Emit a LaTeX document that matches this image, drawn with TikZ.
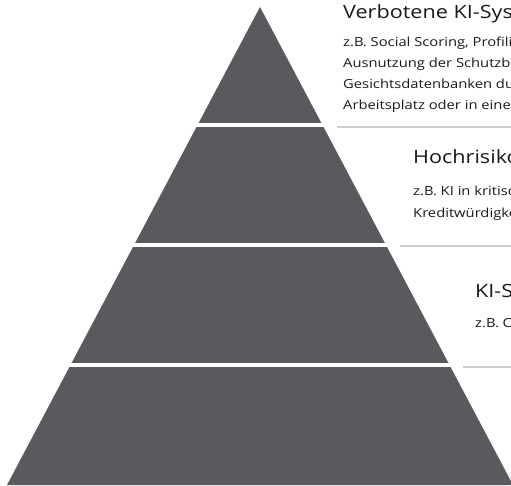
\documentclass[tikz,border=0pt]{standalone}
\usepackage{fontspec}
\setmainfont[FakeStretch=1.18]{Open Sans}
\usepackage{tikz}
\usetikzlibrary{calc}
\definecolor{pyrgray}{RGB}{90,89,94}
\definecolor{rulegray}{RGB}{205,205,205}
\definecolor{textblack}{RGB}{25,25,25}
\tikzset{tiertitle/.style = {draw=none, inner sep = 0, anchor = base west, text = textblack, font = \fontsize{18.3}{18.3}\selectfont}}
\tikzset{tiertext/.style = {draw=none, inner sep = 0, anchor = base west, text = textblack, font = \fontsize{12.5}{12.5}\selectfont}}
\tikzset{tierrule/.style = {draw = rulegray, line width = 1.2}}

\begin{document}
\begin{tikzpicture}[x=1pt, y=-1pt]
\useasboundingbox (0, 0) rectangle (511, 486);
\begin{scope}
\clip (0, 0) rectangle (511, 486);
% pyramid
\coordinate (apex) at (260, 7);
\coordinate (baseL) at (7, 485);
\coordinate (baseR) at (513, 485);
\fill [pyrgray] (apex) -- (baseL) -- (baseR) -- cycle;
\foreach \y in {125, 245, 365}
  \draw [white, line width = 4] (0, \y) -- (511, \y);
% Verbotene
\node [tiertitle] (verbT) at (343, 19) {Verbotene KI-Systeme};
\node [tiertext] (verb1) at (343, 47) {z.B. Social Scoring, Profiling};
\node [tiertext] (verb2) at (343, 68) {Ausnutzung der Schutzbedürftigkeit};
\node [tiertext] (verb3) at (343, 89) {Gesichtsdatenbanken durch};
\node [tiertext] (verb4) at (343, 110) {Arbeitsplatz oder in einer};
\coordinate (rule1a) at (337, 127);
\coordinate (rule1b) at (511, 127);
\draw [tierrule] (rule1a) -- (rule1b);
% Hochrisiko
\node [tiertitle] (hochT) at (413, 164) {Hochrisiko-KI-Systeme};
\node [tiertext] (hoch1) at (413, 196) {z.B. KI in kritischen};
\node [tiertext] (hoch2) at (413, 218) {Kreditwürdigkeit};
\coordinate (rule2a) at (400, 246);
\coordinate (rule2b) at (511, 246);
\draw [tierrule] (rule2a) -- (rule2b);
% KI-Systeme
\node [tiertitle] (kiT) at (475, 297) {KI-Systeme};
\node [tiertext] (ki1) at (475, 327) {z.B. Chatbots};
\coordinate (rule3a) at (463, 367);
\coordinate (rule3b) at (511, 367);
\draw [tierrule] (rule3a) -- (rule3b);
\end{scope}
\end{tikzpicture}
\end{document}
